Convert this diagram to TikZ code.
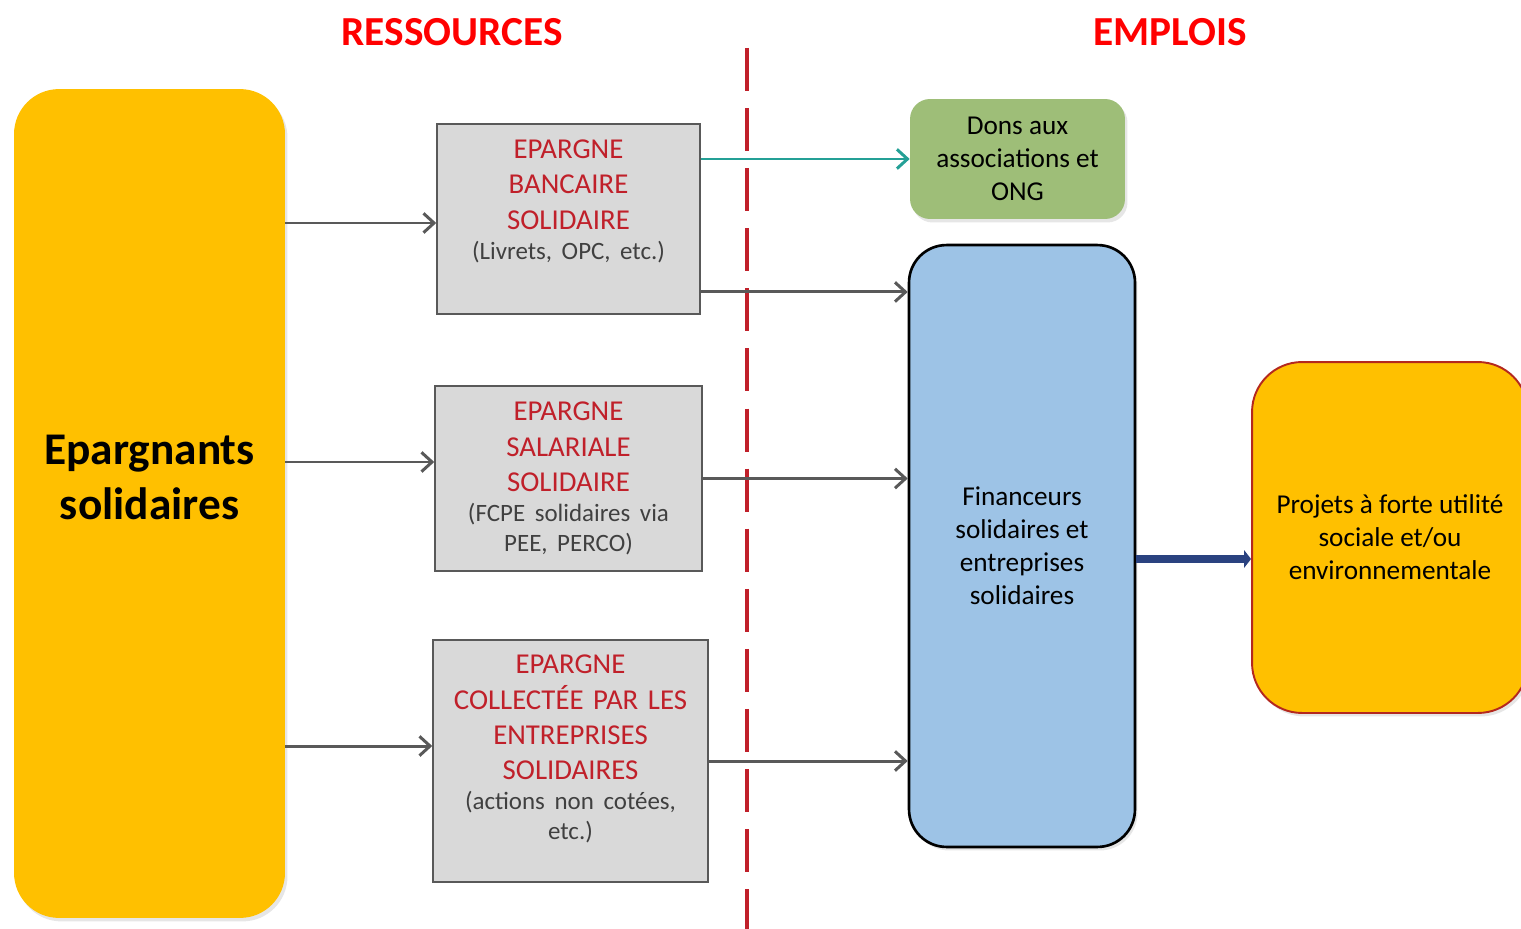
\documentclass[tikz,border=0pt]{standalone}
\usepackage{fontspec}
\setmainfont{Carlito}
\usetikzlibrary{arrows.meta, positioning, shadows}

\definecolor{goldfill}{RGB}{255,192,0}
\definecolor{boxgrey}{RGB}{217,217,217}
\definecolor{linegrey}{RGB}{89,89,89}
\definecolor{subgrey}{RGB}{64,64,64}
\definecolor{epred}{RGB}{192,32,42}
\definecolor{headred}{RGB}{255,0,0}
\definecolor{donsgreen}{RGB}{158,190,120}
\definecolor{finblue}{RGB}{157,195,230}
\definecolor{arrteal}{RGB}{36,160,150}
\definecolor{arrnavy}{RGB}{42,66,128}
\definecolor{projborder}{RGB}{180,40,30}

\newcommand{\subtxt}[1]{\par{\fontsize{14.2}{17}\selectfont\color{subgrey}#1\par}}

\tikzstyle{coltitle} = [font=\fontsize{23.5}{28}\selectfont\bfseries, text=headred]
\tikzstyle{softshadow} = [drop shadow={shadow xshift=0.05cm, shadow yshift=-0.07cm, opacity=0.2}]
\tikzstyle{saver} = [rectangle, rounded corners=0.9cm, fill=goldfill, minimum width=5.42cm, minimum height=16.58cm, softshadow]
\tikzstyle{bigtxt} = [align=center, font=\fontsize{25.8}{31.3}\selectfont\bfseries]
\tikzstyle{fund} = [rectangle, draw=linegrey, fill=boxgrey, line width=0.9pt]
\tikzstyle{fundtxt} = [text width=5cm, execute at begin node=\centering, font=\fontsize{16.4}{20.2}\selectfont, text=epred]
\tikzstyle{donsbox} = [rectangle, rounded corners=0.4cm, fill=donsgreen, minimum width=4.3cm, minimum height=2.4cm, align=center, font=\fontsize{15.5}{18.8}\selectfont, softshadow]
\tikzstyle{finbox} = [rectangle, rounded corners=0.75cm, draw=black, line width=1.5pt, fill=finblue, minimum width=4.52cm, minimum height=12.04cm, align=center, font=\fontsize{15.5}{18.8}\selectfont, softshadow]
\tikzstyle{projbox} = [rectangle, rounded corners=1cm, draw=projborder, line width=1.1pt, fill=goldfill, minimum width=5.52cm, minimum height=7.02cm, align=center, font=\fontsize{15.5}{18.8}\selectfont, softshadow]
\tikzstyle{divider} = [line width=2.8pt, draw=epred, dash pattern=on 24.5pt off 9.7pt]
\tikzstyle{arrow} = [line width=1.7pt, draw=linegrey, -{Straight Barb[length=6pt,width=11pt]}]
\tikzstyle{tealarrow} = [arrow, draw=arrteal]
\tikzstyle{flow} = [line width=5pt, draw=arrnavy, -{Triangle[length=4pt,width=10pt]}, softshadow]

\begin{document}
\begin{tikzpicture}[x=0.02cm, y=-0.02cm]
    \useasboundingbox (0,0) rectangle (1521,929);

    % Column titles
    \node (res) [coltitle] at (452,32) {RESSOURCES};
    \node (emp) [coltitle] at (1170,32) {EMPLOIS};

    % Separation line
    \coordinate (divtop) at (747,48);
    \coordinate (divbot) at (747,929);
    \draw [divider] (divtop) -- (divbot);

    % Savers
    \node (epar) [saver] at (149.5,503.5) {};
    \node (epartxt) [bigtxt] at ([yshift=0.52cm]epar.center) {Epargnants\\solidaires};

    % Resources
    \node (eb) [fund, minimum width=5.26cm, minimum height=3.8cm] at (568.5,219) {};
    \node (ebtxt) [fundtxt] at ([yshift=0.36cm]eb.center) {EPARGNE\\BANCAIRE\\SOLIDAIRE\subtxt{(Livrets, OPC, etc.)}};

    \node (es) [fund, minimum width=5.34cm, minimum height=3.7cm] at (568.5,478.5) {};
    \node (estxt) [fundtxt] at (es.center) {EPARGNE\\SALARIALE\\SOLIDAIRE\subtxt{(FCPE solidaires via\\PEE, PERCO)}};

    \node (ec) [fund, minimum width=5.5cm, minimum height=4.84cm] at (570.5,761) {};
    \node (ectxt) [fundtxt] at ([yshift=0.24cm]ec.center) {EPARGNE\\COLLECTÉE PAR LES\\ENTREPRISES\\SOLIDAIRES\subtxt{(actions non cotées,\\etc.)}};

    % Uses
    \node (dons) [donsbox] at (1017.5,159) {Dons aux\\associations et\\ONG};
    \node (fin) [finbox] at (1022,546) {Financeurs\\solidaires et\\entreprises\\solidaires};
    \node (proj) [projbox] at (1390,537.5) {Projets à forte utilité\\sociale et/ou\\environnementale};

    % Flows
    \draw [arrow] ([yshift=-0.08cm]eb.west -| epar.east) -- ([yshift=-0.08cm]eb.west);
    \draw [arrow] ([yshift=0.33cm]es.west -| epar.east) -- ([yshift=0.33cm]es.west);
    \draw [arrow] ([yshift=0.3cm]ec.west -| epar.east) -- ([yshift=0.3cm]ec.west);
    \draw [tealarrow] (dons.west -| eb.east) -- (dons.west);
    \draw [arrow] ([yshift=-1.46cm]eb.east) -- ([yshift=-1.46cm]eb.east -| fin.west);
    \draw [arrow] (es.east) -- (es.east -| fin.west);
    \draw [arrow] (ec.east) -- (ec.east -| fin.west);
    \draw [flow] ([yshift=-0.26cm]fin.east) -- ([yshift=-0.26cm]fin.east -| proj.west);

\end{tikzpicture}
\end{document}
